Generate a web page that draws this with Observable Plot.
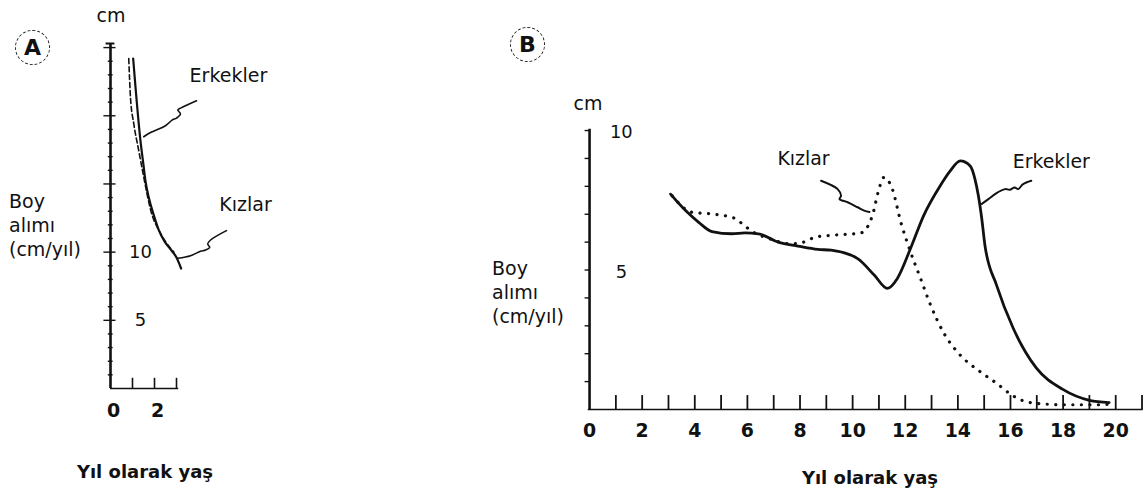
<!DOCTYPE html>
<html>
<head>
<meta charset="utf-8">
<script src="https://cdn.jsdelivr.net/npm/d3@7"></script>
<script src="https://cdn.jsdelivr.net/npm/@observablehq/plot@0.6"></script>
<style>
  html, body { margin: 0; padding: 0; background: #fff; }
  #wrap { position: relative; width: 1145px; height: 495px; overflow: hidden; font-family: "DejaVu Sans", sans-serif; color: #111; }
  .panel { position: absolute; top: 0; }
  .lbl { position: absolute; white-space: nowrap; }
  .ylab { font-size: 19px; line-height: 24px; }
  .xlab { font-size: 18px; font-weight: bold; transform: translateX(-50%); line-height: 1; }
  .cm { font-size: 19px; transform: translateX(-50%); line-height: 1; }
  .circ { width: 35px; height: 35px; border: 1.5px dashed #222; border-radius: 50%; display: flex; align-items: center; justify-content: center; font-size: 22px; font-weight: bold; box-sizing: border-box; }
</style>
</head>
<body>
<div id="wrap">
  <div id="pa" class="panel" style="left:0px"></div>
  <div id="pb" class="panel" style="left:460px"></div>
  <div class="lbl circ" style="left:15px; top:30px;">A</div>
  <div class="lbl circ" style="left:510px; top:27px;">B</div>
  <div class="lbl cm" style="left:111px; top:6px;">cm</div>
  <div class="lbl cm" style="left:588px; top:94px;">cm</div>
  <div class="lbl ylab" style="left:9px; top:189px;">Boy<br>alımı<br>(cm/yıl)</div>
  <div class="lbl ylab" style="left:492px; top:256px;">Boy<br>alımı<br>(cm/yıl)</div>
  <div class="lbl xlab" style="left:145px; top:463px;">Yıl olarak yaş</div>
  <div class="lbl xlab" style="left:870px; top:469px;">Yıl olarak yaş</div>
</div>
<script>
// ---------- Panel A: 0-3 years ----------
const agesA_boys  = [1.03, 1.36, 1.49, 1.59, 1.74, 1.97, 2.20, 2.45, 2.73, 3.00, 3.21];
const rateA_boys  = [24.2, 18.2, 16.5, 15.2, 14.0, 12.7, 11.6, 10.8, 10.2, 9.6, 8.8];
const agesA_girls = [0.83, 0.91, 1.06, 1.29, 1.50, 1.84, 2.27, 2.88];
const rateA_girls = [24.2, 21.3, 19.4, 17.4, 15.6, 13.0, 11.4, 10.0];
const yTicksA = d3.range(1, 26);
const yTickLabelsA = [5, 10];
const xTicksA = [1, 2, 3];
const xTickLabelsA = [0, 2];
const labelsA = ["Erkekler", "Kızlar"];
const labelAgeA = [5.36, 6.14];
const labelRateA = [22.9, 13.5];
const leaderA_boysAge  = [3.91, 3.21, 3.06, 3.18, 3.00, 2.80, 2.50, 1.82, 1.51];
const leaderA_boysRate = [21.1, 20.58, 20.43, 20.13, 19.83, 19.68, 19.27, 18.77, 18.46];
const leaderA_girlsAge  = [5.27, 4.55, 4.42, 4.51, 4.32, 4.09, 3.64, 3.06];
const leaderA_girlsRate = [11.58, 10.89, 10.60, 10.35, 10.16, 10.06, 9.74, 9.55];

// ---------- Panel B: 0-20 years ----------
const agesB_boys = [3.08, 3.65, 4.15, 4.65, 5.41, 5.91, 6.42, 7.17, 7.92, 8.68, 9.18, 10.19, 10.82, 11.32, 11.70, 12.20, 12.70, 13.33, 13.71, 14.09, 14.47, 14.65, 14.78, 14.91, 15.03, 15.47, 16.10, 16.98, 17.99, 19.00, 19.75];
const rateB_boys = [7.72, 7.13, 6.71, 6.38, 6.30, 6.33, 6.30, 6.00, 5.86, 5.74, 5.71, 5.41, 4.82, 4.34, 4.70, 5.77, 6.95, 8.02, 8.55, 8.91, 8.73, 8.26, 7.66, 6.83, 5.88, 4.46, 2.92, 1.49, 0.72, 0.33, 0.25];
const agesB_girls = [3.14, 3.90, 4.65, 5.53, 5.91, 6.28, 6.79, 7.67, 8.30, 8.55, 9.43, 10.31, 10.75, 11.00, 11.19, 11.51, 11.83, 12.20, 12.58, 12.96, 13.46, 14.09, 14.84, 15.47, 16.10, 16.73, 17.99, 19.25, 19.87];
const rateB_girls = [7.66, 7.07, 7.01, 6.85, 6.57, 6.33, 6.14, 5.94, 6.05, 6.18, 6.26, 6.33, 6.95, 7.90, 8.32, 7.90, 6.72, 5.65, 4.70, 3.75, 2.75, 1.95, 1.36, 0.94, 0.49, 0.25, 0.17, 0.17, 0.19];
const yTicksB = d3.range(1, 11);
const yTickLabelsB = [5, 10];
const xTicksB = d3.range(1, 22);
const xTickLabelsB = d3.range(0, 21, 2);
const labelsB = ["Kızlar", "Erkekler"];
const labelAgeB = [8.13, 17.55];
const labelRateB = [8.97, 8.86];
const leaderB_girlsAge  = [8.80, 9.43, 9.56, 9.50, 9.81, 10.19, 10.44, 10.64];
const leaderB_girlsRate = [8.20, 7.90, 7.66, 7.54, 7.43, 7.25, 7.13, 7.08];
const leaderB_boysAge  = [16.79, 16.48, 16.29, 16.16, 15.97, 15.79, 15.47, 15.16, 14.91];
const leaderB_boysRate = [8.20, 8.08, 7.90, 7.96, 7.88, 7.90, 7.76, 7.54, 7.37];

const zip = (xs, ys) => xs.map((x, i) => ({x, y: ys[i]}));
const font = {fontFamily: "DejaVu Sans", background: "transparent", color: "#111", overflow: "visible"};

// Panel A
const chartA = Plot.plot({
  width: 330, height: 495,
  marginLeft: 110, marginRight: 330 - 110 - 3.1 * 22, marginTop: 43, marginBottom: 107,
  x: {domain: [0, 3.1], axis: null},
  y: {domain: [0, 25.3], axis: null},
  style: font,
  marks: [
    Plot.ruleX([0], {y1: 0, y2: 25.3, strokeWidth: 2.6, stroke: "#111"}),
    Plot.ruleY([25.3], {x1: -0.2, x2: 0.2, strokeWidth: 2, stroke: "#111"}),
    Plot.ruleY(yTicksA, {y: d => d, x1: d => d % 5 === 0 ? -0.3 : -0.1, x2: d => d % 5 === 0 ? 0.25 : 0.12, strokeWidth: 1.4, stroke: "#111"}),
    Plot.ruleY([0], {x1: 0, x2: 3.1, strokeWidth: 1.6, stroke: "#111"}),
    Plot.ruleX(xTicksA, {x: d => d, y1: 0, y2: 0.75, strokeWidth: 1.6, stroke: "#111"}),
    Plot.text(yTickLabelsA, {x: 0, y: d => d, dx: 30, text: d => String(d), fontSize: 18, fill: "#111"}),
    Plot.text(xTickLabelsA, {x: d => d, y: 0, dx: 3, dy: 22, text: d => String(d), fontSize: 19, fontWeight: "bold", fill: "#111"}),
    Plot.line(zip(agesA_boys, rateA_boys), {x: "x", y: "y", curve: "monotone-x", strokeWidth: 2.2, stroke: "#111"}),
    Plot.line(zip(agesA_girls, rateA_girls), {x: "x", y: "y", curve: "monotone-x", strokeWidth: 1.6, stroke: "#111", strokeDasharray: "5,3"}),
    Plot.line(zip(leaderA_boysAge, leaderA_boysRate), {x: "x", y: "y", curve: "catmull-rom", strokeWidth: 1.6, stroke: "#111"}),
    Plot.line(zip(leaderA_girlsAge, leaderA_girlsRate), {x: "x", y: "y", curve: "catmull-rom", strokeWidth: 1.6, stroke: "#111"}),
    Plot.text(labelsA, {x: (d, i) => labelAgeA[i], y: (d, i) => labelRateA[i], text: d => d, fontSize: 19, fill: "#111"})
  ]
});
document.getElementById("pa").appendChild(chartA);

// Panel B
const chartB = Plot.plot({
  width: 690, height: 495,
  marginLeft: 130, marginRight: 690 - 130 - 21.05 * 26.5, marginTop: 412 - 10.1 * 28.1, marginBottom: 83,
  x: {domain: [0, 21.05], axis: null},
  y: {domain: [0, 10.1], axis: null},
  style: font,
  marks: [
    Plot.ruleX([0], {y1: 0, y2: 10.05, strokeWidth: 2.6, stroke: "#111"}),
    Plot.ruleY(yTicksB, {y: d => d, x1: -0.17, x2: 0, strokeWidth: 1.4, stroke: "#111"}),
    Plot.ruleY([0], {x1: -0.05, x2: 21.05, strokeWidth: 1.6, stroke: "#111"}),
    Plot.ruleX(xTicksB, {x: d => d, y1: 0, y2: 0.5, strokeWidth: 1.8, stroke: "#111"}),
    Plot.text(yTickLabelsB, {x: 0, y: d => d, dx: 32, dy: 2, text: d => String(d), fontSize: 18, fill: "#111"}),
    Plot.text(xTickLabelsB, {x: d => d, y: 0, dy: 22, text: d => String(d), fontSize: 19, fontWeight: "bold", fill: "#111"}),
    Plot.line(zip(agesB_boys, rateB_boys), {x: "x", y: "y", curve: "monotone-x", strokeWidth: 2.8, stroke: "#111"}),
    Plot.line(zip(agesB_girls, rateB_girls), {x: "x", y: "y", curve: "monotone-x", strokeWidth: 3.2, stroke: "#111", strokeDasharray: "0.1,8.5", strokeLinecap: "round"}),
    Plot.line(zip(leaderB_girlsAge, leaderB_girlsRate), {x: "x", y: "y", curve: "catmull-rom", strokeWidth: 2, stroke: "#111"}),
    Plot.line(zip(leaderB_boysAge, leaderB_boysRate), {x: "x", y: "y", curve: "catmull-rom", strokeWidth: 2, stroke: "#111"}),
    Plot.text(labelsB, {x: (d, i) => labelAgeB[i], y: (d, i) => labelRateB[i], text: d => d, fontSize: 19, fill: "#111"})
  ]
});
document.getElementById("pb").appendChild(chartB);
</script>
</body>
</html>
